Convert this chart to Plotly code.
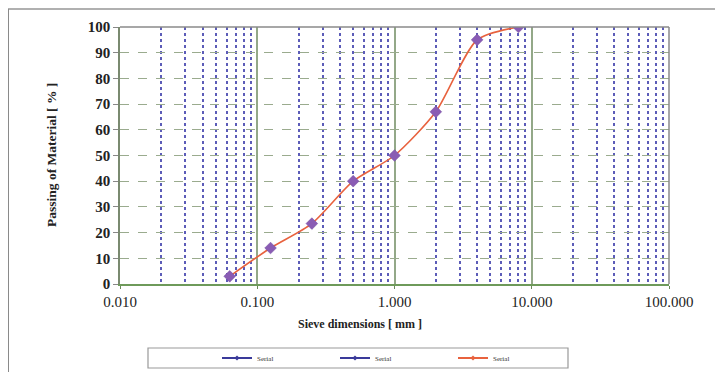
import plotly.graph_objects as go

# Data
sieve_mm = [0.063, 0.125, 0.25, 0.5, 1, 2, 4, 8]
passing_pct = [3, 14, 23.5, 40, 50, 67, 95, 100]
x_tick_format = ".3f"   # tick labels: 0.010, 0.100, 1.000, 10.000, 100.000
legend_names = ["Serial", "Serial", "Serial"]
legend_colors = ["#3a3a9a", "#3a3a9a", "#e8623e"]

# page body has an 8px margin: work in reference pixel coords, shifted by 8
OFF = 8
W, H = 723 - OFF, 372 - OFF
L, R, T, B = 120 - OFF, 669 - OFF, 27 - OFF, 284 - OFF


def px(xp):
    return (xp - OFF - L) / (R - L)


def py(yp):
    return (B - (yp - OFF)) / (B - T)


fig = go.Figure()

# legend-only entries (small markers, as in the reference legend)
for name, col in zip(legend_names, legend_colors):
    fig.add_trace(go.Scatter(
        x=[None], y=[None], mode="lines+markers", name=name,
        line=dict(color=col, width=2),
        marker=dict(symbol="diamond", size=4, color=col),
    ))

fig.add_trace(go.Scatter(
    x=sieve_mm, y=passing_pct, mode="lines+markers", name=legend_names[2],
    showlegend=False,
    line=dict(color="#e8623e", width=1.6, shape="spline", smoothing=0.7),
    marker=dict(symbol="diamond", size=9, color="#8a5cb4",
                line=dict(color="#6f4a9e", width=0.5)),
))

serif = "Liberation Serif, Times New Roman, serif"

fig.update_layout(
    width=W, height=H,
    margin=dict(l=L, r=W - R, t=T, b=H - B, autoexpand=False),
    paper_bgcolor="white",
    plot_bgcolor="white",
    showlegend=True,
    legend=dict(
        orientation="h",
        x=px(217), y=py(358), xanchor="left", yanchor="middle",
        font=dict(family=serif, size=7, color="#333"),
        entrywidth=73, entrywidthmode="pixels",
        bgcolor="rgba(0,0,0,0)", borderwidth=0,
        itemwidth=30,
    ),
    xaxis=dict(
        type="log",
        range=[-2, 2],
        dtick=1,
        tickformat=x_tick_format,
        tickfont=dict(family=serif, size=15, color="#222"),
        ticks="outside", ticklen=3, tickcolor="#6a8a5a",
        showgrid=True, gridcolor="#93a888", gridwidth=1.5,
        minor=dict(showgrid=True, gridcolor="#5c5cb8", gridwidth=1.6,
                   griddash="dot", ticks=""),
        showline=True, linecolor="#6e9a5a", linewidth=2,
        mirror=False,
        zeroline=False,
    ),
    yaxis=dict(
        range=[0, 100],
        dtick=10,
        tickfont=dict(family=serif, size=15, color="#222", weight="bold"),
        ticks="outside", ticklen=5, tickcolor="#888",
        showgrid=True, gridcolor="#9aab8e", gridwidth=1.2, griddash="dash",
        showline=True, linecolor="#7a8a70", linewidth=1.5,
        zeroline=False,
    ),
    annotations=[
        dict(text="<b>Sieve dimensions [ mm ]</b>", xref="paper", yref="paper",
             x=px(360), y=py(333), showarrow=False,
             font=dict(family=serif, size=12, color="#222")),
        dict(text="<b>Passing of Material [ % ]</b>", xref="paper", yref="paper",
             x=px(42), y=0.5, textangle=-90, showarrow=False,
             font=dict(family=serif, size=13.5, color="#222")),
    ],
    shapes=[
        dict(type="line", xref="paper", yref="paper", x0=0, x1=1, y0=1, y1=1,
             line=dict(color="#8a8a8a", width=1.5)),
        dict(type="line", xref="paper", yref="paper", x0=1, x1=1, y0=0, y1=1,
             line=dict(color="#8a8a8a", width=1.5)),
        dict(type="line", xref="paper", yref="paper", x0=px(8), x1=px(723),
             y0=py(9), y1=py(9), line=dict(color="#b0b0b0", width=2)),
        dict(type="line", xref="paper", yref="paper", x0=px(8), x1=px(8),
             y0=py(9), y1=py(372), line=dict(color="#8a8a8a", width=2)),
        dict(type="rect", xref="paper", yref="paper", x0=px(148), x1=px(568),
             y0=py(368), y1=py(348), line=dict(color="#999", width=1.2),
             fillcolor="rgba(0,0,0,0)"),
    ],
)

fig.write_html("out.html")
